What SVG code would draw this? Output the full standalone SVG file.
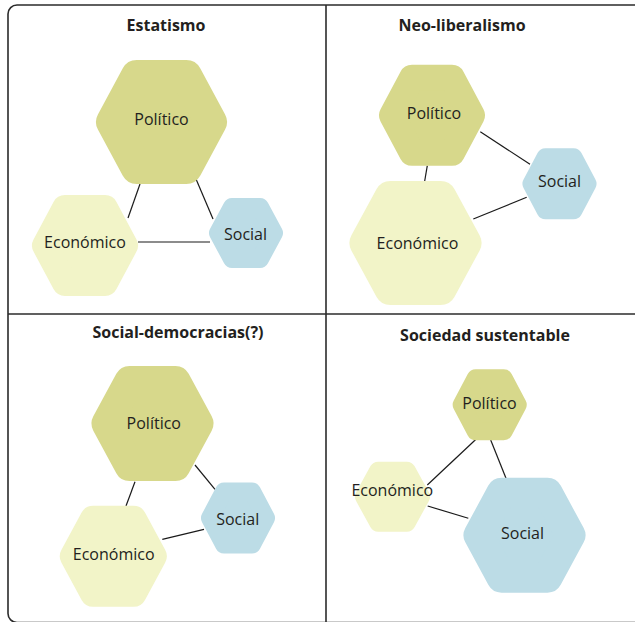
<svg xmlns="http://www.w3.org/2000/svg" width="635" height="622" viewBox="0 0 635 622">
<style>
.frame{fill:none;stroke:#2b2b2b;stroke-width:1.6}
.div{stroke:#2b2b2b;stroke-width:1.6}
.title{font-family:"Open Sans","Liberation Sans",sans-serif;font-weight:bold;font-size:16px;fill:#231f20;text-anchor:middle}
.lbl{font-family:"Open Sans","Liberation Sans",sans-serif;font-size:16px;fill:#231f20;text-anchor:middle}
.pol{fill:#d7d88b;stroke:#d7d88b;stroke-linejoin:round}
.eco{fill:#f2f4c8;stroke:#f2f4c8;stroke-linejoin:round}
.soc{fill:#bcdce6;stroke:#bcdce6;stroke-linejoin:round}
.con line{stroke:#1a1a1a;stroke-width:1.2}
</style>
<rect class="frame" x="8" y="5" width="660" height="617.5" rx="9"/>
<line class="div" x1="326" y1="5" x2="326" y2="622"/>
<line class="div" x1="8" y1="314" x2="635" y2="314"/>
<g id="titles">
<text class="title" x="166" y="31">Estatismo</text>
<text class="title" x="462" y="31">Neo-liberalismo</text>
<text class="title" x="178" y="338">Social-democracias(?)</text>
<text class="title" x="485" y="341">Sociedad sustentable</text>
</g>
<g id="connectors" class="con">
<line x1="140" y1="184" x2="128" y2="218"/>
<line x1="196" y1="179" x2="213" y2="219"/>
<line x1="138" y1="242" x2="210" y2="242"/>
<line x1="427.3" y1="165.7" x2="424.7" y2="181"/>
<line x1="480.3" y1="131.7" x2="530" y2="164.3"/>
<line x1="473.3" y1="219" x2="526.7" y2="197.3"/>
<line x1="135" y1="481.7" x2="126" y2="506"/>
<line x1="195" y1="465" x2="215" y2="489.3"/>
<line x1="162.3" y1="539.3" x2="204" y2="529.3"/>
<line x1="476" y1="439.3" x2="427.3" y2="485"/>
<line x1="490.7" y1="440" x2="506" y2="478.3"/>
<line x1="427.7" y1="506" x2="468.3" y2="518.3"/>
</g>
<g id="p1-politico">
<polygon class="pol" stroke-width="32" points="112,122 136.75,76 186.25,76 211,122 186.25,168 136.75,168"/>
<text class="lbl" x="161.5" y="125">Político</text>
</g>
<g id="p1-social">
<polygon class="soc" stroke-width="18" points="218,233 232,207 260,207 274,233 260,259 232,259"/>
<text class="lbl" x="245.5" y="240">Social</text>
</g>
<g id="p1-economico">
<polygon class="eco" stroke-width="26" points="45,245.5 65,208 105,208 125,245.5 105,283 65,283"/>
<text class="lbl" x="85" y="248">Económico</text>
</g>
<g id="p2-politico">
<polygon class="pol" stroke-width="26" points="392,115.3 412,77.8 452,77.8 472,115.3 452,152.8 412,152.8"/>
<text class="lbl" x="434" y="119">Político</text>
</g>
<g id="p2-social">
<polygon class="soc" stroke-width="18" points="531.5,183.7 545.5,157.2 573.5,157.2 587.5,183.7 573.5,210.2 545.5,210.2"/>
<text class="lbl" x="559.5" y="187">Social</text>
</g>
<g id="p2-economico">
<polygon class="eco" stroke-width="32" points="365.5,243 390.5,197 440.5,197 465.5,243 440.5,289 390.5,289"/>
<text class="lbl" x="417.5" y="249">Económico</text>
</g>
<g id="p3-politico">
<polygon class="pol" stroke-width="30" points="106.5,423.5 129.5,381 175.5,381 198.5,423.5 175.5,466 129.5,466"/>
<text class="lbl" x="153.8" y="429">Político</text>
</g>
<g id="p3-social">
<polygon class="soc" stroke-width="18" points="210,518 224,491.5 252,491.5 266,518 252,544.5 224,544.5"/>
<text class="lbl" x="237.7" y="525">Social</text>
</g>
<g id="p3-economico">
<polygon class="eco" stroke-width="26" points="72.8,556.3 93.05,518.8 133.55,518.8 153.8,556.3 133.55,593.8 93.05,593.8"/>
<text class="lbl" x="113.7" y="560">Económico</text>
</g>
<g id="p4-politico">
<polygon class="pol" stroke-width="18" points="461.7,404.7 475.7,378.2 503.7,378.2 517.7,404.7 503.7,431.2 475.7,431.2"/>
<text class="lbl" x="489.5" y="409.3">Político</text>
</g>
<g id="p4-economico">
<polygon class="eco" stroke-width="18" points="364,496.7 378.25,470.7 406.75,470.7 421,496.7 406.75,522.7 378.25,522.7"/>
<text class="lbl" x="392.3" y="496">Económico</text>
</g>
<g id="p4-social">
<polygon class="soc" stroke-width="30" points="478.5,535.2 501.5,492.7 547.5,492.7 570.5,535.2 547.5,577.7 501.5,577.7"/>
<text class="lbl" x="522.5" y="539.3">Social</text>
</g>
</svg>
